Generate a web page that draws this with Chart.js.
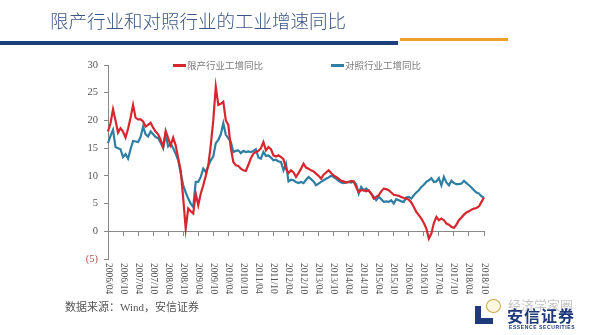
<!DOCTYPE html>
<html>
<head>
<meta charset="utf-8">
<script src="https://cdn.jsdelivr.net/npm/chart.js@4"></script>
<style>
  body { margin: 0; background: #fff; }
  #wrap { position: relative; width: 600px; height: 335px; overflow: hidden; background: #fff; }
  #chart { position: absolute; left: 0; top: 0; }
  .abs { position: absolute; white-space: nowrap; }
  #title { left: 50px; top: 7px; font: 300 18.5px "Noto Sans CJK SC", sans-serif; color: #3a5685; }
  #barBlue { left: 0; top: 41px; width: 398px; height: 4px; background: #1d3f7c; }
  #barOrange { left: 400px; top: 38px; width: 108px; height: 3px; background: #ee9f2a; }
  .legLine { height: 2.5px; width: 13px; }
  .legText { font: 9.5px "Liberation Serif", "Noto Sans CJK SC", serif; color: #7a7a7a; }
  #source { left: 65px; top: 298px; font: 11px "Liberation Serif", "Noto Sans CJK SC", serif; color: #555; }
  #logoV { left: 475px; top: 306px; width: 6px; height: 18px; background: #1e3a7a; }
  #logoH { left: 475px; top: 318px; width: 18px; height: 6px; background: #1e3a7a; }
  #logoCN { left: 507px; top: 303px; font: bold 16px "Noto Sans CJK SC", sans-serif; color: #1e3a7a; letter-spacing: 1px; }
  #logoEN { left: 509px; top: 324px; font: bold 5px "Liberation Sans", sans-serif; color: #1e3a7a; letter-spacing: 0.6px; }
  #wm { left: 508px; top: 295px; font: 13px "Noto Sans CJK SC", sans-serif; color: rgba(150,150,150,0.55); }
  #face { left: 486px; top: 299px; width: 13px; height: 12px; border: 1px solid #c9a74a; border-radius: 50%; background: #fff8df; }
</style>
</head>
<body>
<div id="wrap">
  <canvas id="chart" width="600" height="335"></canvas>
  <div class="abs" id="title">限产行业和对照行业的工业增速同比</div>
  <div class="abs" id="barBlue"></div>
  <div class="abs" id="barOrange"></div>
  <div class="abs legLine" style="left:173px;top:64px;background:#d6262e;"></div>
  <div class="abs legText" style="left:187px;top:58px;">限产行业工增同比</div>
  <div class="abs legLine" style="left:331px;top:64px;background:#2f7ea3;"></div>
  <div class="abs legText" style="left:345px;top:58px;">对照行业工增同比</div>
  <div class="abs" id="source">数据来源：Wind，安信证券</div>
  <div class="abs" id="face"></div>
  <div class="abs" id="wm">经济学家圈</div>
  <div class="abs" id="logoV"></div>
  <div class="abs" id="logoH"></div>
  <div class="abs" id="logoCN">安信证券</div>
  <div class="abs" id="logoEN">ESSENCE SECURITIES</div>
</div>
<script>
// 月度数据：2006/04 - 2018/10
const startYear = 2006, startMonth = 4;
const tickLabels = [
  "2006/04", "2006/10", "2007/04", "2007/10", "2008/04", "2008/10", "2009/04",
  "2009/10", "2010/04", "2010/10", "2011/04", "2011/10", "2012/04", "2012/10",
  "2013/04", "2013/10", "2014/04", "2014/10", "2015/04", "2015/10", "2016/04",
  "2016/10", "2017/04", "2017/10", "2018/04", "2018/10"
];

// 限产行业工增同比 (%)
const limitedIndustry = [
  18.0, 19.5, 22.0, 20.0, 17.8, 18.6, 18.0, 16.9, 18.5, 20.5,
  22.8, 20.5, 20.2, 20.2, 19.8, 18.9, 19.2, 19.6, 18.7, 18.0,
  17.5, 16.5, 15.2, 18.1, 16.8, 15.5, 16.9, 15.5, 13.2, 11.0,
  6.0, 0.5, 4.1, 3.6, 3.2, 6.8, 4.7, 6.8, 8.3, 10.0,
  11.9, 15.5, 20.0, 26.1, 22.8, 23.0, 23.4, 20.0, 19.2, 15.0,
  12.5, 11.9, 11.8, 11.3, 11.0, 10.9, 12.0, 13.2, 14.0, 14.3,
  14.5, 15.0, 16.1, 14.6, 15.2, 14.8, 13.7, 13.5, 13.7, 13.4,
  13.0, 11.3, 10.5, 11.0, 10.6, 9.8, 10.5, 11.3, 12.2, 11.5,
  11.3, 11.0, 10.8, 10.4, 10.0, 9.5, 10.2, 10.6, 11.0, 10.5,
  10.1, 9.8, 9.5, 9.1, 9.0, 8.8, 8.9, 9.1, 9.0, 8.0,
  7.1, 7.4, 7.4, 7.2, 7.4, 6.8, 5.9, 6.2, 6.5, 7.2,
  7.7, 7.6, 7.4, 7.0, 6.6, 6.5, 6.4, 6.2, 6.0, 5.9,
  5.7, 5.2, 4.4, 3.5, 2.9, 2.3, 1.5, 0.5, -1.3, -0.4,
  1.5, 2.6, 2.0, 2.3, 2.0, 1.4, 1.2, 0.8, 0.6, 1.2,
  2.0, 2.5, 3.0, 3.4, 3.6, 3.9, 4.1, 4.2, 4.5, 5.3,
  6.1
];

// 对照行业工增同比 (%)
const controlIndustry = [
  15.9, 17.2, 18.3, 15.2, 15.0, 14.8, 13.4, 13.9, 13.1, 14.8,
  16.3, 16.2, 16.1, 17.0, 18.9, 17.5, 17.1, 18.0, 17.5, 17.0,
  16.8, 16.0, 15.0, 17.5, 15.3, 15.8, 15.0, 14.0, 12.8, 10.5,
  8.3, 7.0, 5.9, 5.0, 4.4, 8.9, 8.9, 9.8, 11.3, 10.7,
  11.8, 12.8, 13.5, 15.9, 16.5, 17.5, 19.5, 17.4, 16.8, 16.1,
  14.3, 14.5, 14.6, 14.1, 14.5, 14.3, 14.4, 14.3, 14.5, 14.8,
  13.3, 13.1, 14.3, 13.6, 13.7, 13.3, 12.8, 12.9, 12.6, 12.5,
  11.0, 12.2, 9.0, 9.3, 9.2, 8.9, 8.7, 8.9, 8.7, 9.3,
  9.8, 9.4, 9.0, 8.3, 8.6, 8.9, 9.2, 9.5, 9.7, 10.0,
  9.8, 9.5, 9.1, 8.8, 8.7, 8.8, 8.9, 8.8, 9.0, 8.5,
  6.8, 8.0, 7.4, 7.7, 7.3, 6.8, 6.2, 5.6, 6.2, 5.8,
  5.3, 5.4, 5.3, 5.6, 5.0, 5.8, 5.6, 5.4, 5.3, 6.1,
  6.2, 5.9, 6.5, 7.0, 7.4, 8.0, 8.4, 8.9, 9.2, 9.6,
  8.9, 9.0, 9.6, 8.3, 9.8, 8.8, 8.3, 9.1, 8.7, 8.5,
  8.5, 8.6, 9.1, 8.7, 8.3, 7.9, 7.4, 7.0, 6.8, 6.3,
  6.1
];

// 月份标签
const months = [];
for (let i = 0; i < limitedIndustry.length; i++) {
  const m0 = startMonth - 1 + i;
  const y = startYear + Math.floor(m0 / 12);
  const m = (m0 % 12) + 1;
  months.push(y + "/" + (m < 10 ? "0" + m : m));
}

// x 轴标签竖排（从上往下读）
const xLabelPlugin = {
  id: "xLabels",
  afterDraw(chart) {
    const xs = chart.scales.x;
    const ctx = chart.ctx;
    ctx.save();
    ctx.font = '9.5px "Liberation Serif", serif';
    ctx.fillStyle = "#555";
    ctx.textAlign = "left";
    ctx.textBaseline = "middle";
    months.forEach((lab, i) => {
      if (!tickLabels.includes(lab)) return;
      const x = xs.getPixelForValue(i);
      ctx.save();
      ctx.translate(x, 263);
      ctx.rotate(Math.PI / 2);
      ctx.fillText(lab, 0, 0);
      ctx.restore();
    });
    ctx.restore();
  }
};

new Chart(document.getElementById("chart"), {
  type: "line",
  data: {
    labels: months,
    datasets: [
      {
        label: "限产行业工增同比",
        data: limitedIndustry,
        borderColor: "#d6262e",
        borderWidth: 2.2,
        pointRadius: 0,
        tension: 0,
        fill: false
      },
      {
        label: "对照行业工增同比",
        data: controlIndustry,
        borderColor: "#2f7ea3",
        borderWidth: 2.2,
        pointRadius: 0,
        tension: 0,
        fill: false
      }
    ]
  },
  options: {
    responsive: false,
    animation: false,
    layout: { padding: { left: 0, top: 65, right: 116, bottom: 76 } },
    plugins: { legend: { display: false }, tooltip: { enabled: false } },
    scales: {
      x: {
        position: { y: 0 },
        offset: false,
        ticks: { display: false, autoSkip: false },
        grid: {
          drawOnChartArea: false,
          tickLength: 4,
          color: (c) => (c.index % 6 === 0 ? "#888" : "rgba(0,0,0,0)")
        },
        border: { color: "#888", width: 1 }
      },
      y: {
        min: -5,
        max: 30,
        afterFit(scale) { scale.width = 108; },
        ticks: {
          stepSize: 5,
          padding: 6,
          font: { family: "Liberation Serif", size: 10.5 },
          color: (c) => (c.tick.value < 0 ? "#b4504a" : "#555"),
          callback: (v) => (v < 0 ? "(" + Math.abs(v) + ")" : v)
        },
        grid: { drawOnChartArea: false, tickLength: 4, color: "#888" },
        border: { color: "#888", width: 1 }
      }
    }
  },
  plugins: [xLabelPlugin]
});
</script>
</body>
</html>
